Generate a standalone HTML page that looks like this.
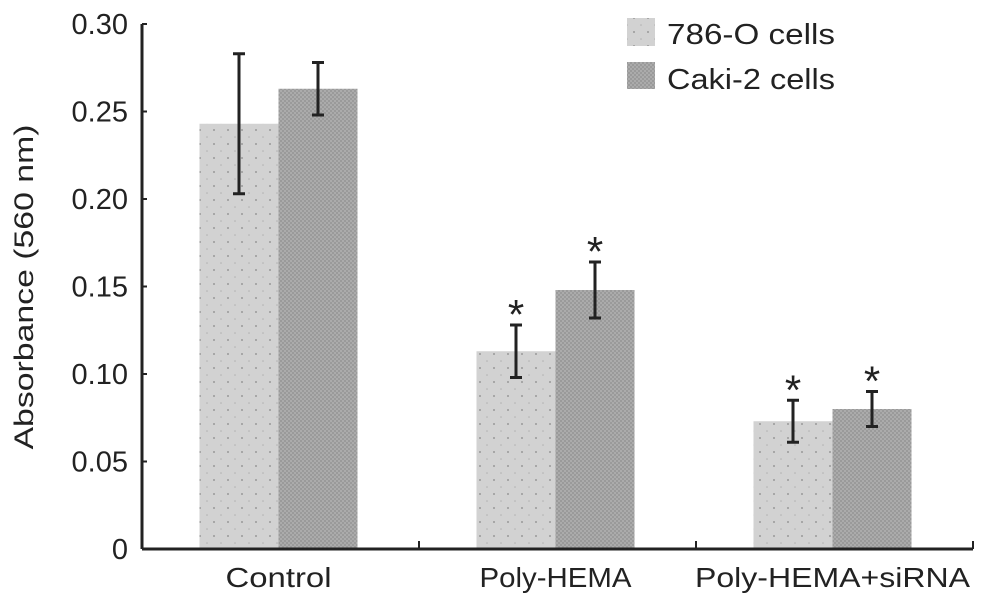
<!DOCTYPE html>
<html><head><meta charset="utf-8"><style>
body{margin:0;background:#fff}
svg{font-family:"Liberation Sans",sans-serif}
</style></head><body>
<svg id="chart" width="985" height="605" viewBox="0 0 985 605">
<defs>
<pattern id="dots" width="14" height="14" patternUnits="userSpaceOnUse">
<rect width="14" height="14" fill="#d2d2d2"/><circle cx="4" cy="4" r="1" fill="#9a9a9a"/><circle cx="11" cy="11" r="0.8" fill="#b0b0b0"/>
</pattern>
<pattern id="hatch" width="4" height="4" patternUnits="userSpaceOnUse">
<rect width="4" height="4" fill="#ababab"/><rect width="2" height="2" fill="#9a9a9a"/><rect x="2" y="2" width="2" height="2" fill="#9a9a9a"/>
</pattern>
</defs>
<g id="bars"></g>
<g id="axes"></g>
<g>
<rect x="627" y="18" width="28" height="28" fill="url(#dots)"/>
<text x="667" y="44" font-size="29" textLength="168" lengthAdjust="spacingAndGlyphs" fill="#222">786-O cells</text>
<rect x="627" y="62" width="28" height="27" fill="url(#hatch)"/>
<text x="667" y="89" font-size="29" textLength="168" lengthAdjust="spacingAndGlyphs" fill="#222">Caki-2 cells</text>
</g>
<text transform="translate(33,287) rotate(-90)" text-anchor="middle" font-size="27" textLength="325" lengthAdjust="spacingAndGlyphs" fill="#222">Absorbance (560 nm)</text>
</svg>
<script>
const categories=["Control","Poly-HEMA","Poly-HEMA+siRNA"];
const values786=[0.243,0.113,0.073];
const valuesCaki=[0.263,0.148,0.080];
const err786=[0.040,0.015,0.012];
const errCaki=[0.015,0.016,0.010];
const sig786=[false,true,true];
const sigCaki=[false,true,true];
const yTicks=[0,0.05,0.10,0.15,0.20,0.25,0.30];
const yTickLabels=["0","0.05","0.10","0.15","0.20","0.25","0.30"];
const xLabelWidths=[106,152,275];

const NS="http://www.w3.org/2000/svg";
const x0=142,x1=973,y0=549,yTop=24,yMax=0.30;
const y=v=>y0-(v/yMax)*(y0-yTop);
const gw=(x1-x0)/categories.length;
const bw=79;
function el(t,a,p){const e=document.createElementNS(NS,t);for(const k in a)e.setAttribute(k,a[k]);p.appendChild(e);return e;}
const bars=document.getElementById('bars'),axes=document.getElementById('axes');
categories.forEach((c,i)=>{
  const cx=x0+gw*i+gw/2-2;
  [[values786,err786,sig786,'url(#dots)','786o',cx-bw],[valuesCaki,errCaki,sigCaki,'url(#hatch)','caki2',cx]].forEach(([vals,errs,sig,fill,nm,bx])=>{
    const v=vals[i];
    const r=el('rect',{x:bx,y:y(v),width:bw,height:y0-y(v),fill:fill},bars);
    
    
    const mx=bx+bw/2,hi=y(v+errs[i]),lo=y(v-errs[i]);
    const g=el('g',{stroke:'#222','stroke-width':3},bars);
    
    
    el('line',{x1:mx,x2:mx,y1:hi,y2:lo},g);
    el('line',{x1:mx-6,x2:mx+6,y1:hi,y2:hi},g);
    el('line',{x1:mx-6,x2:mx+6,y1:lo,y2:lo},g);
    if(sig[i]){const s=el('text',{x:mx,y:hi+4,'text-anchor':'middle','font-size':42,fill:'#222'},bars);s.textContent='*';
      
      }
  });
  const t=el('text',{x:cx,y:587,'text-anchor':'middle','font-size':28,textLength:xLabelWidths[i],lengthAdjust:'spacingAndGlyphs',fill:'#222'},axes);
  t.textContent=c;
  
  
  if(i>0){el('line',{x1:x0+gw*i,x2:x0+gw*i,y1:y0,y2:y0-8,stroke:'#222','stroke-width':2},axes);}
});
el('line',{x1:x1,x2:x1,y1:y0,y2:y0-8,stroke:'#222','stroke-width':2},axes);
const ya=el('line',{x1:x0,x2:x0,y1:yTop,y2:y0,stroke:'#222','stroke-width':3},axes);


const xa=el('line',{x1:x0,x2:x1,y1:y0,y2:y0,stroke:'#222','stroke-width':3},axes);


yTicks.forEach((v,i)=>{
  el('line',{x1:x0,x2:x0+5,y1:y(v),y2:y(v),stroke:'#222','stroke-width':2},axes);
  const t=el('text',{x:x0-14,y:y(v)+10,'text-anchor':'end','font-size':29,fill:'#222'},axes);
  t.textContent=yTickLabels[i];
  
  
});
</script>
</body></html>
